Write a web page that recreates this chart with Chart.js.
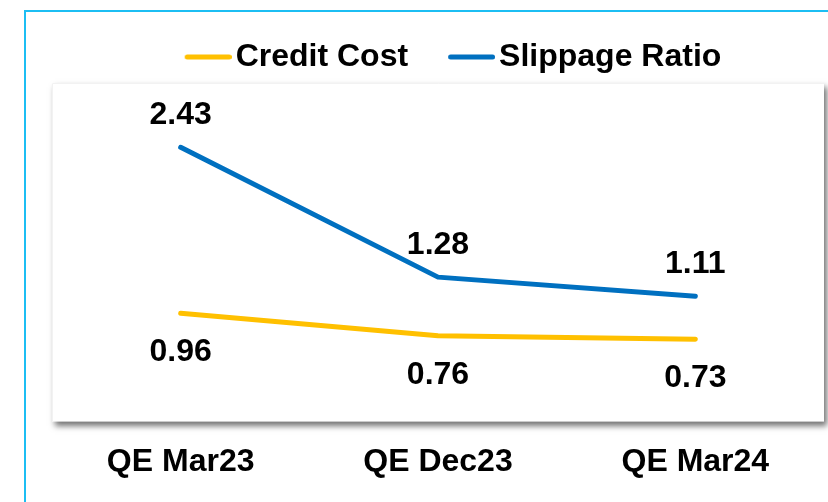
<!DOCTYPE html>
<html>
<head>
<meta charset="utf-8">
<script src="https://cdn.jsdelivr.net/npm/chart.js@4/dist/chart.umd.min.js"></script>
<style>
  html, body { margin: 0; padding: 0; background: #ffffff; }
  #wrap { position: relative; width: 828px; height: 502px; }
</style>
</head>
<body>
<div id="wrap"><canvas id="c" width="828" height="502"></canvas></div>
<script>
const categories = ['QE Mar23', 'QE Dec23', 'QE Mar24'];
const creditCost = [0.96, 0.76, 0.73];
const slippageRatio = [2.43, 1.28, 1.11];
const seriesNames = ['Credit Cost', 'Slippage Ratio'];
const seriesColors = ['#FFC000', '#0070C0'];
const labelPlacement = ['below', 'above'];

const FONT = '"Liberation Sans", Arial, sans-serif';

function legendLine(color) {
  const c = document.createElement('canvas');
  c.width = 89; c.height = 8;
  const g = c.getContext('2d');
  g.strokeStyle = color;
  g.lineWidth = 5;
  g.lineCap = 'round';
  g.beginPath();
  g.moveTo(44.5, 4);
  g.lineTo(86.5, 4);
  g.stroke();
  return c;
}

const framePlugin = {
  id: 'frame',
  beforeDraw(chart) {
    const ctx = chart.ctx;
    const a = chart.chartArea;
    ctx.save();
    ctx.fillStyle = '#ffffff';
    ctx.fillRect(0, 0, chart.width, chart.height);
    ctx.fillStyle = '#1CBEF3';
    ctx.fillRect(24, 10, 2, chart.height - 10);
    ctx.fillRect(24, 10, chart.width - 24, 2);
    ctx.shadowColor = 'rgba(0,0,0,0.55)';
    ctx.shadowBlur = 6;
    ctx.shadowOffsetX = 3;
    ctx.shadowOffsetY = 4;
    ctx.fillStyle = '#ffffff';
    ctx.fillRect(a.left, a.top, a.right - a.left, a.bottom - a.top);
    ctx.restore();
    ctx.save();
    ctx.strokeStyle = '#f2f2f2';
    ctx.lineWidth = 1;
    ctx.beginPath();
    ctx.moveTo(a.left + 0.5, a.bottom);
    ctx.lineTo(a.left + 0.5, a.top + 0.5);
    ctx.lineTo(a.right, a.top + 0.5);
    ctx.stroke();
    ctx.restore();
  }
};

const labelPlugin = {
  id: 'valueLabels',
  afterDatasetsDraw(chart) {
    const ctx = chart.ctx;
    ctx.save();
    ctx.font = 'bold 32px ' + FONT;
    ctx.fillStyle = '#000000';
    ctx.textAlign = 'center';
    ctx.textBaseline = 'alphabetic';
    chart.data.datasets.forEach((ds, i) => {
      const meta = chart.getDatasetMeta(i);
      meta.data.forEach((pt, j) => {
        const v = ds.data[j];
        const y = labelPlacement[i] === 'above' ? pt.y - 23 : pt.y + 48;
        ctx.fillText(v.toFixed(2), pt.x, y);
      });
    });
    ctx.restore();
  }
};

new Chart(document.getElementById('c'), {
  type: 'line',
  data: {
    labels: categories,
    datasets: [
      {
        label: seriesNames[0],
        data: creditCost,
        borderColor: seriesColors[0],
        backgroundColor: seriesColors[0],
        borderWidth: 5,
        borderCapStyle: 'round',
        borderJoinStyle: 'round',
        pointRadius: 0,
        tension: 0
      },
      {
        label: seriesNames[1],
        data: slippageRatio,
        borderColor: seriesColors[1],
        backgroundColor: seriesColors[1],
        borderWidth: 5,
        borderCapStyle: 'round',
        borderJoinStyle: 'round',
        pointRadius: 0,
        tension: 0
      }
    ]
  },
  options: {
    responsive: false,
    animation: false,
    devicePixelRatio: 1,
    layout: { padding: { left: 52, right: 4, top: 31, bottom: 0 } },
    plugins: {
      tooltip: { enabled: false },
      legend: {
        display: true,
        position: 'top',
        labels: {
          usePointStyle: true,
          pointStyleWidth: 65,
          boxHeight: 32,
          padding: 10,
          color: '#000000',
          font: { family: FONT, size: 32, weight: 'bold' },
          generateLabels(chart) {
            return chart.data.datasets.map((ds, i) => ({
              text: ds.label,
              fillStyle: seriesColors[i],
              strokeStyle: seriesColors[i],
              lineWidth: 0,
              pointStyle: legendLine(seriesColors[i]),
              datasetIndex: i,
              hidden: false
            }));
          }
        }
      }
    },
    scales: {
      x: {
        offset: true,
        grid: { display: false, drawTicks: false },
        border: { display: false },
        ticks: {
          color: '#000000',
          padding: 21,
          font: { family: FONT, size: 32, weight: 'bold', lineHeight: 1.2 }
        }
      },
      y: {
        display: false,
        min: 0,
        max: 3
      }
    }
  },
  plugins: [framePlugin, labelPlugin]
});
</script>
</body>
</html>
